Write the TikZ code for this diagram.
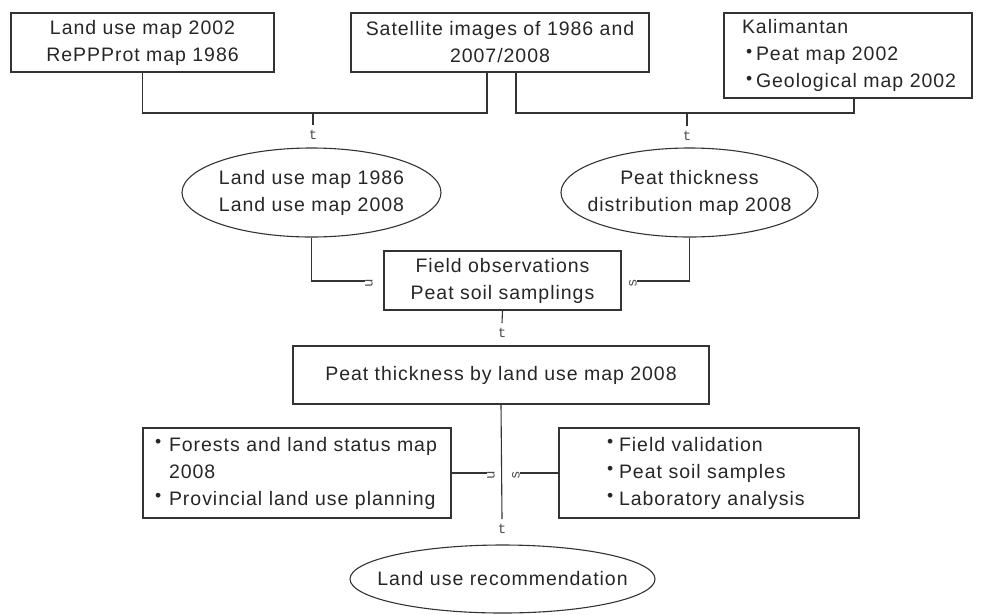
\documentclass[tikz,border=0pt]{standalone}
\usepackage{graphicx}
\usepackage{fontspec}
\setmainfont{Liberation Sans}[LetterSpace=5]
\newfontfamily\glyphfnt{Liberation Mono}
\usetikzlibrary{shapes.geometric}
\newcommand\bulmark[1][12pt]{\makebox[#1][l]{\raisebox{3.5pt}{\scalebox{0.9}{•}}}}
\begin{document}
\begin{tikzpicture}[x=1pt,y=-1pt,
  every node/.style={font=\fontsize{19.5}{27}\selectfont, text=black!85},
  box/.style={draw=black!80, line width=1.1pt, rectangle, inner sep=0pt, align=center},
  oval/.style={draw=black!80, line width=1.1pt, ellipse, inner sep=0pt},
  lbl/.style={align=center, font=\fontsize{19.5}{27}\selectfont, text=black!85},
  link/.style={draw=black!80, line width=1.1pt},
  glyph/.style={font=\glyphfnt\fontsize{14}{14}\selectfont, text=black!70, inner sep=0pt}
]
\useasboundingbox (0,0) rectangle (981,614);

% top boxes
\node[box, minimum width=263pt, minimum height=59pt] (A) at (142.5,42.5) {Land use map 2002\\RePPProt map 1986};
\node[box, minimum width=298pt, minimum height=59pt] (B) at (500,42.5) {Satellite images of 1986 and\\2007/2008};
\node[box, minimum width=248pt, minimum height=85pt, text width=232pt, inner xsep=8pt, align=left] (C) at (848,55.5)
  {\hspace*{10pt}Kalimantan\\\hspace*{14pt}\bulmark[10pt]Peat map 2002\\\hspace*{14pt}\bulmark[10pt]Geological map 2002};

% ellipses
\node[oval, minimum width=259pt, minimum height=89pt,
  label={[lbl]center:{Land use map 1986\\Land use map 2008}}] (E1) at (311.5,192.5) {};
\node[oval, minimum width=257pt, minimum height=89pt,
  label={[lbl]center:{Peat thickness\\distribution map 2008}}] (E2) at (689.5,192.5) {};

% middle boxes
\node[box, minimum width=237pt, minimum height=59pt] (D) at (502.5,280.5) {Field observations\\Peat soil samplings};
\node[box, minimum width=416pt, minimum height=58pt] (E) at (501,375) {Peat thickness by land use map 2008};

% lower boxes
\node[box, minimum width=308pt, minimum height=90pt, text width=290pt, inner xsep=9pt, align=left] (F) at (297,473)
  {\hspace*{3pt}\bulmark[14pt]Forests and land status map\\\hspace*{17pt}2008\\\hspace*{3pt}\bulmark[14pt]Provincial land use planning};
\node[box, minimum width=300pt, minimum height=90pt, text width=212pt, inner xsep=44pt, align=left] (G) at (709,473)
  {\hspace*{4pt}\bulmark Field validation\\\hspace*{4pt}\bulmark Peat soil samples\\\hspace*{4pt}\bulmark Laboratory analysis};

\node[oval, minimum width=305pt, minimum height=68pt,
  label={[lbl]center:{Land use recommendation}}] (E3) at (502.5,579) {};

% glyphs (as printed)
\node[glyph] (t1) at (313,135) {t};
\node[glyph] (t2) at (687,136) {t};
\node[glyph, rotate=90] (gL1) at (369,283) {u};
\node[glyph, rotate=90] (gR1) at (633,283) {s};
\node[glyph] (t3) at (502,333) {t};
\node[glyph, rotate=90] (gL2) at (491,475) {u};
\node[glyph, rotate=90] (gR2) at (516,475) {s};
\node[glyph] (t4) at (502,529) {t};

% junction coordinates
\coordinate (bL) at (487,72);
\coordinate (bR) at (516,72);
\coordinate (cS) at (854,98);
\coordinate (j1) at (313,113);
\coordinate (j2) at (687,113);
\coordinate (cL1) at (365,281);
\coordinate (cR1) at (637,281);
\coordinate (cL2) at (487,473);
\coordinate (cR2) at (520,473);

% connectors
\draw[link] (A.south) -- (A.south |- j1) -- (bL |- j1) -- (bL);
\draw[link] (j1) -- ([yshift=5pt]t1.north);
\draw[link] (bR) -- (bR |- j2) -- (cS |- j2) -- (cS);
\draw[link] (j2) -- ([yshift=5pt]t2.north);
\draw[link] (E1.south) |- (cL1);
\draw[link] (E2.south) |- (cR1);
\draw[link] (D.south) -- ([yshift=5pt]t3.north);
\draw[link] (E.south) -- ([yshift=5pt]t4.north);
\draw[link] (F.east) -- (cL2);
\draw[link] (G.west) -- (cR2);
\end{tikzpicture}
\end{document}
